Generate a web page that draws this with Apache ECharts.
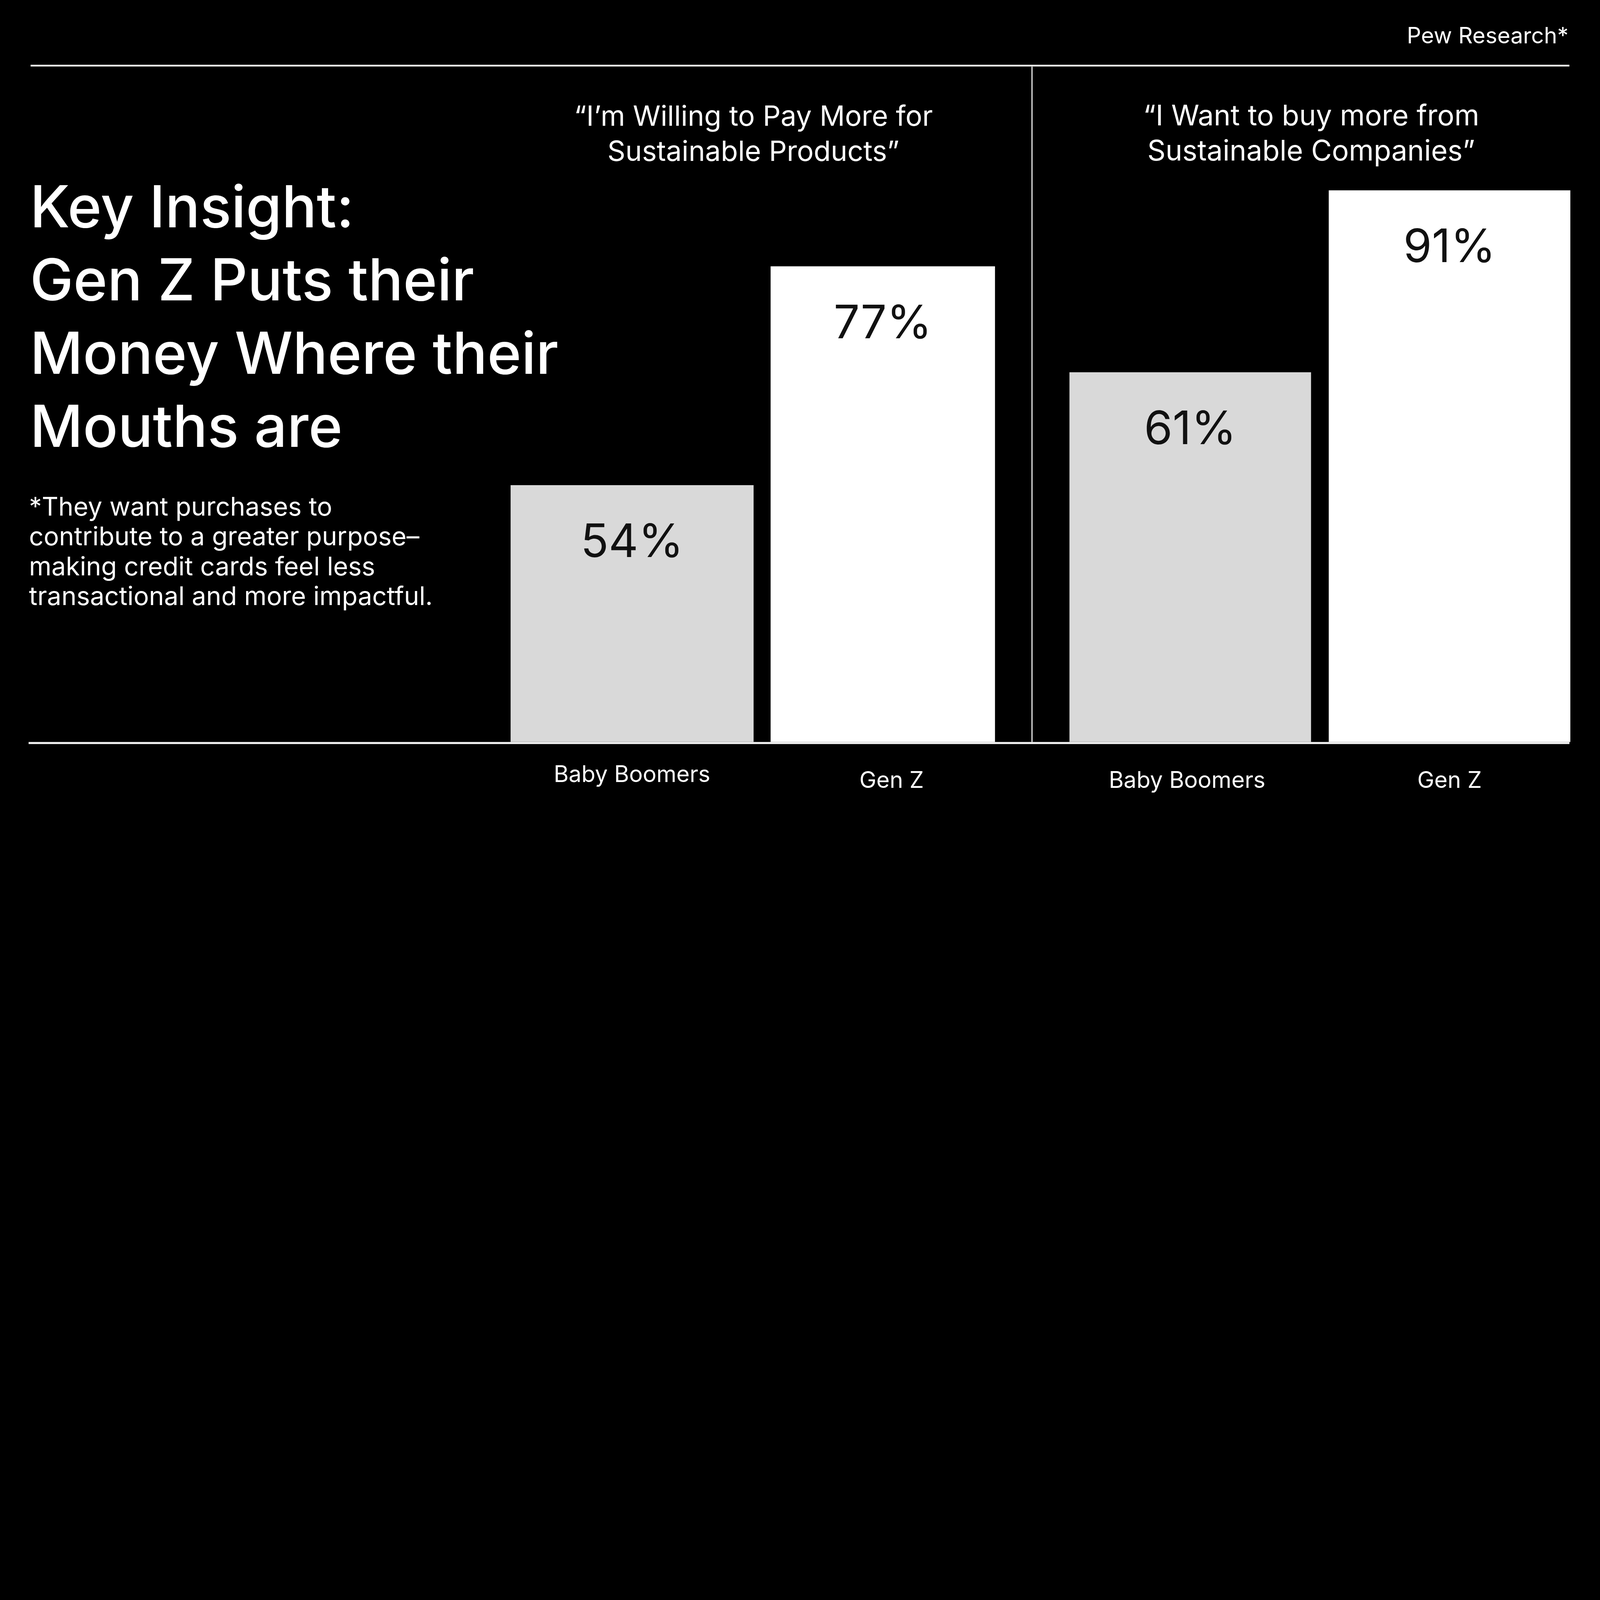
<!DOCTYPE html>
<html>
<head>
<meta charset="utf-8">
<title>Gen Z sustainability</title>
<script src="https://cdn.jsdelivr.net/npm/echarts@6/dist/echarts.min.js"></script>
<style>
  html, body { margin: 0; padding: 0; background: #000; overflow: hidden; }
</style>
</head>
<body>
<div id="chart"></div>
<script>
// data
var categories = ['Baby Boomers', 'Gen Z'];
var payMoreValues = [54, 77];   // "I'm willing to pay more..."
var buyMoreValues = [61, 91];   // "I want to buy more..."
var payMoreTitle = ['\u201cI\u2019m Willing to Pay More for', 'Sustainable Products\u201d'];
var buyMoreTitle = ['\u201cI Want to buy more from', 'Sustainable Companies\u201d'];
var headline = ['Key Insight:', 'Gen Z Puts their', 'Money Where their', 'Mouths are'];
var footnote = ['*They want purchases to', 'contribute to a greater purpose\u2013',
                'making credit cards feel less', 'transactional and more impactful.'];
var source = 'Pew Research*';

var FONT = 'Inter, "Noto Sans", sans-serif';
var barColors = ['#d9d9d9', '#ffffff'];

// layout is drawn on an 8000x4500 canvas, scaled down if the window is smaller
var s = Math.min(window.innerWidth / 8000, window.innerHeight / 4500);
function px(v) { return v * s; }

var dom = document.getElementById('chart');
dom.style.width = px(8000) + 'px';
dom.style.height = px(4500) + 'px';

// one bar series per generation, so each can have its own width / colour
function panelSeries(values, gridIdx, widths) {
    return values.map(function (v, i) {
        var data = values.map(function (x, j) { return j === i ? x : '-'; });
        return {
            type: 'bar',
            xAxisIndex: gridIdx,
            yAxisIndex: gridIdx,
            data: data,
            barWidth: px(widths[i]),
            barGap: '-100%',
            clip: true,
            itemStyle: {color: barColors[i]},
            label: {
                show: true,
                position: 'insideTop',
                distance: px(175),
                formatter: '{c}%',
                color: '#111',
                fontFamily: FONT,
                fontSize: px(230),
                fontWeight: 400
            },
            silent: true
        };
    });
}

// per-label nudges: [raise, shiftX]
function catAxis(gridIdx, nudges) {
    return {
        type: 'category',
        gridIndex: gridIdx,
        data: categories.map(function (c, i) {
            var n = nudges[i];
            if (!n) return c;
            var ts = {};
            if (n[0]) ts.lineHeight = px(116 - 2 * n[0]);
            if (n[1] > 0) ts.padding = [0, 0, 0, px(2 * n[1])];
            if (n[1] < 0) ts.padding = [0, px(-2 * n[1]), 0, 0];
            return {value: c, textStyle: ts};
        }),
        axisLine: {show: false},
        axisTick: {show: false},
        axisLabel: {
            color: '#fff',
            fontFamily: FONT,
            fontSize: px(114),
            lineHeight: px(116),
            margin: px(138),
            interval: 0
        }
    };
}

function valAxis(gridIdx, min, max) {
    return {
        type: 'value',
        gridIndex: gridIdx,
        min: min,
        max: max,
        show: false,
        splitLine: {show: false}
    };
}

function textEl(lines, x, y, size, weight, align, lineH) {
    return {
        type: 'text',
        x: px(x),
        y: px(y),
        style: {
            text: lines.join('\n'),
            fill: '#fff',
            font: weight + ' ' + px(size) + 'px ' + FONT,
            align: align,
            verticalAlign: 'top',
            lineHeight: px(lineH)
        },
        silent: true
    };
}

function lineEl(x1, y1, x2, y2, w, color) {
    return {
        type: 'line',
        shape: {x1: px(x1), y1: px(y1), x2: px(x2), y2: px(y2)},
        style: {stroke: color, lineWidth: px(w)},
        silent: true
    };
}

var option = {
    backgroundColor: '#000',
    animation: false,
    grid: [
        {left: px(2464), width: px(2600), top: px(1189), bottom: px(790)},
        {left: px(5303), width: px(2593), top: px(679), bottom: px(790)}
    ],
    xAxis: [catAxis(0, [[30, 46], [0, 44]]), catAxis(1, [[0, -16], null])],
    yAxis: [valAxis(0, 27, 80), valAxis(1, 0, 100)],
    series: panelSeries(payMoreValues, 0, [1215, 1122])
        .concat(panelSeries(buyMoreValues, 1, [1208, 1208])),
    graphic: [
        lineEl(153, 328, 7847, 328, 9, '#f0f0ec'),
        lineEl(143, 3715, 7847, 3715, 10, '#f4f4f4'),
        lineEl(5160, 333, 5160, 3710, 6, '#e8e8e8'),
        textEl([source], 7842, 122, 112, 400, 'right', 124),
        textEl(payMoreTitle, 3767, 498, 140, 400, 'center', 177),
        textEl(buyMoreTitle, 6556, 495, 142, 400, 'center', 177),
        textEl(headline, 150, 866, 290, 500, 'left', 366),
        textEl(footnote, 145, 2465, 128, 400, 'left', 149)
    ]
};

var chart = echarts.init(dom);
chart.setOption(option);
</script>
</body>
</html>
